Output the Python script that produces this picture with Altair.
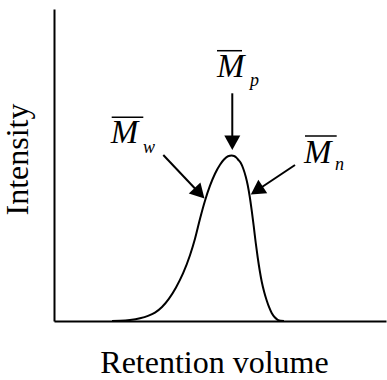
import math
import altair as alt
import pandas as pd

# Plot-area size (pixels) and the shared 0-100 data domain on both axes
W, H = 332, 312
DOMAIN = [0, 100]

# Chromatogram trace: retention volume vs detector intensity (arbitrary units)
retention = [17.47, 19.88, 22.89, 25.90, 28.31, 30.42, 32.53, 34.64, 36.75,
             38.86, 40.96, 42.47, 43.98, 45.48, 46.99, 48.49, 50.00, 51.20,
             52.41, 53.52, 54.22, 54.82, 55.42, 56.23, 56.99, 57.74, 58.34,
             58.95, 59.55, 60.15, 60.75, 61.36, 61.96, 62.56, 63.31, 64.07,
             64.82, 65.57, 66.48, 67.38, 68.28, 69.28]
intensity = [0.0, 0.06, 0.32, 0.87, 1.63, 2.69, 4.49, 7.18, 10.77,
             15.26, 21.09, 26.38, 32.79, 38.56, 43.37, 47.21, 50.10, 51.76,
             52.79, 53.01, 52.88, 52.47, 51.76, 50.71, 48.88, 46.31, 43.59,
             39.90, 35.42, 30.45, 25.16, 20.35, 16.19, 12.66, 9.29, 6.57,
             4.33, 2.56, 1.19, 0.38, 0.06, 0.0]

# Annotation arrows: tail and tip positions in data units
arrow_names = ["Mp", "Mw", "Mn"]
arrow_x0 = [53.70, 32.92, 72.59]
arrow_y0 = [72.98, 53.21, 50.00]
arrow_x1 = [53.70, 45.33, 59.28]
arrow_y1 = [54.81, 39.26, 40.54]

# Average-molar-mass labels: main symbol, subscript, overline bar
label_main_x = [49.10, 17.08, 75.30]
label_main_y = [78.11, 56.96, 50.54]
label_sub = ["p", "w", "n"]
label_sub_x = [59.04, 26.81, 84.64]
label_sub_y = [75.48, 53.75, 48.40]
bar_x0 = [49.10, 17.38, 75.60]
bar_x1 = [56.63, 26.90, 85.15]
bar_y = [86.63, 65.29, 59.29]

SERIF = "Liberation Serif"

px_x = W / (DOMAIN[1] - DOMAIN[0])
px_y = H / (DOMAIN[1] - DOMAIN[0])

# Arrow heads sit at the tip, rotated along the shaft; shafts stop under the head
heads = []
for n, x0, y0, x1, y1 in zip(arrow_names, arrow_x0, arrow_y0, arrow_x1, arrow_y1):
    dxp = (x1 - x0) * px_x
    dyp = -(y1 - y0) * px_y
    L = math.hypot(dxp, dyp)
    ang = math.degrees(math.atan2(dxp, -dyp)) % 360
    back = 9.0
    xs = x1 - (dxp / L) * back / px_x
    ys = y1 + (dyp / L) * back / px_y
    heads.append({"name": n, "x": x0, "y": y0, "x2": xs, "y2": ys,
                  "tx": x1, "ty": y1, "angle": ang})
arrows = pd.DataFrame(heads)

curve = pd.DataFrame({"x": retention, "y": intensity})
labels = pd.DataFrame({"x": label_main_x, "y": label_main_y, "t": ["M"] * 3})
subs = pd.DataFrame({"x": label_sub_x, "y": label_sub_y, "t": label_sub})
bars = pd.DataFrame({"x": bar_x0, "x2": bar_x1, "y": bar_y})

xs_ = alt.Scale(domain=DOMAIN, nice=False, zero=False)
ys_ = alt.Scale(domain=DOMAIN, nice=False, zero=False)

x_axis = alt.Axis(title="Retention volume", ticks=False, labels=False, grid=False,
                  domainColor="black", domainWidth=2, titleFont=SERIF,
                  titleFontSize=32, titleFontWeight="normal", titleColor="black",
                  titleX=160, titleY=51, titleAlign="center",
                  titleBaseline="alphabetic")
y_axis = alt.Axis(title="Intensity", ticks=False, labels=False, grid=False,
                  domainColor="black", domainWidth=2, titleFont=SERIF,
                  titleFontSize=32, titleFontWeight="normal", titleColor="black",
                  titleX=-27, titleY=150, titleAngle=-90, titleAlign="center",
                  titleBaseline="alphabetic")

line = alt.Chart(curve).mark_line(color="black", strokeWidth=2,
                                  interpolate="monotone").encode(
    x=alt.X("x:Q", scale=xs_, axis=x_axis),
    y=alt.Y("y:Q", scale=ys_, axis=y_axis),
)

shafts = alt.Chart(arrows).mark_rule(color="black", strokeWidth=2).encode(
    x=alt.X("x:Q", scale=xs_, axis=x_axis),
    y=alt.Y("y:Q", scale=ys_, axis=y_axis),
    x2="x2:Q",
    y2="y2:Q",
)

head_shape = "M0,0L-1,1.8L1,1.8Z"
tips = alt.Chart(arrows).mark_point(shape=head_shape, filled=True, color="black",
                                    opacity=1, size=256, strokeWidth=0).encode(
    x=alt.X("tx:Q", scale=xs_, axis=x_axis),
    y=alt.Y("ty:Q", scale=ys_, axis=y_axis),
    angle=alt.Angle("angle:Q", scale=None),
)

mains = alt.Chart(labels).mark_text(font=SERIF, fontSize=33, fontStyle="italic",
                                    align="left", baseline="alphabetic",
                                    color="black").encode(
    x=alt.X("x:Q", scale=xs_, axis=x_axis),
    y=alt.Y("y:Q", scale=ys_, axis=y_axis),
    text="t:N",
)

subscripts = alt.Chart(subs).mark_text(font=SERIF, fontSize=18, fontStyle="italic",
                                       align="left", baseline="alphabetic",
                                       color="black").encode(
    x=alt.X("x:Q", scale=xs_, axis=x_axis),
    y=alt.Y("y:Q", scale=ys_, axis=y_axis),
    text="t:N",
)

overbars = alt.Chart(bars).mark_rule(color="black", strokeWidth=1.5).encode(
    x=alt.X("x:Q", scale=xs_, axis=x_axis),
    x2="x2:Q",
    y=alt.Y("y:Q", scale=ys_, axis=y_axis),
)

chart = alt.layer(line, shafts, tips, overbars, mains, subscripts).properties(
    width=W, height=H,
    autosize=alt.AutoSizeParams(type="none"),
    padding={"left": 54, "top": 9, "right": 1, "bottom": 59},
    background="white",
).configure_view(stroke=None)

chart.save("out.html", embed_options={"renderer": "svg", "actions": False})
